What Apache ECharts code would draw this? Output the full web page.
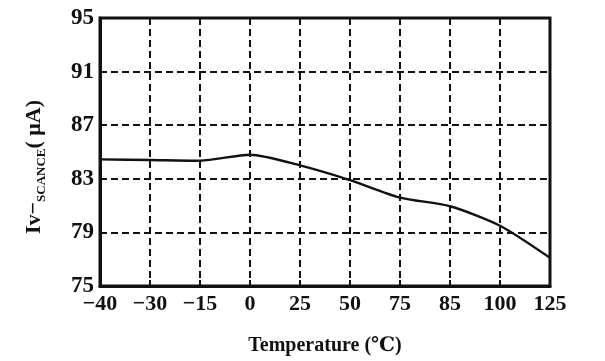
<!DOCTYPE html>
<html>
<head>
<meta charset="utf-8">
<script src="https://cdn.jsdelivr.net/npm/echarts@6/dist/echarts.min.js"></script>
<style>html,body{margin:0;padding:0;background:#fff;}#c{width:605px;height:361px;}</style>
</head>
<body>
<div id="c"></div>
<script>
const categories = ['-40', '-30', '-15', '0', '25', '50', '75', '85', '100', '125'];
const ivValues = [84.45, 84.4, 84.35, 84.8, 84.0, 82.9, 81.6, 80.95, 79.5, 77.1];
const yTicks = [75, 79, 83, 87, 91, 95];

const chart = echarts.init(document.getElementById('c'));
const serif = '"Liberation Serif", "DejaVu Serif", serif';
chart.setOption({
  animation: false,
  grid: { left: 100, right: 55, top: 18, bottom: 71, show: true, borderColor: '#111', borderWidth: 3, backgroundColor: 'transparent' },
  xAxis: {
    type: 'category',
    data: categories,
    boundaryGap: false,
    axisLine: { lineStyle: { color: '#111', width: 3 } },
    axisTick: { inside: true, length: 6, lineStyle: { color: '#111', width: 2 } },
    axisLabel: { color: '#111', fontFamily: serif, fontWeight: 'bold', fontSize: 22, margin: 7,
      formatter: v => v.replace('-', '\u2212') },
    splitLine: { show: true, lineStyle: { color: '#111', width: 2, type: [7, 4] } },
    name: 'Temperature (\u2103)',
    nameLocation: 'middle',
    nameGap: 50,
    nameTextStyle: { color: '#111', fontFamily: serif, fontWeight: 'bold', fontSize: 20 }
  },
  yAxis: {
    type: 'value',
    min: 75, max: 95, interval: 4,
    axisLine: { show: true, lineStyle: { color: '#111', width: 3 } },
    axisTick: { show: true, inside: true, length: 6, lineStyle: { color: '#111', width: 2 } },
    axisLabel: { color: '#111', fontFamily: serif, fontWeight: 'bold', fontSize: 23, margin: 6,
      formatter: v => yTicks.indexOf(v) >= 0 ? String(v) : '' },
    splitLine: { show: true, lineStyle: { color: '#111', width: 2, type: [7, 4] } },
    name: '{a|Iv\u2212}{b|SCANCE}{a|( \u03bcA)}',
    nameLocation: 'middle',
    nameRotate: 90,
    nameGap: 52,
    nameTextStyle: {
      padding: [0, 30, 0, 0],
      rich: {
        a: { fontFamily: serif, fontWeight: 'bold', fontSize: 22, color: '#111', lineHeight: 28, verticalAlign: 'middle' },
        b: { fontFamily: serif, fontWeight: 'bold', fontSize: 13, color: '#111', lineHeight: 28, verticalAlign: 'bottom', padding: [9, 0, 0, 0] }
      }
    }
  },
  series: [{
    type: 'line',
    data: ivValues,
    smooth: 0.25,
    showSymbol: false,
    lineStyle: { color: '#111', width: 2.4 }
  }]
});
</script>
</body>
</html>
